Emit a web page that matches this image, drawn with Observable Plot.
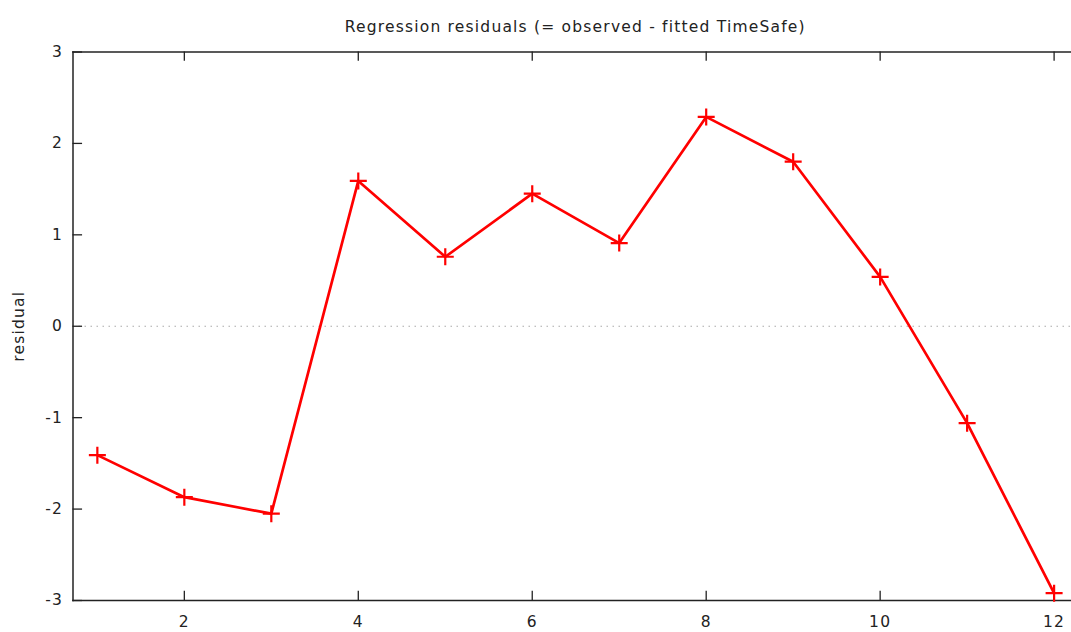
<!DOCTYPE html>
<html><head><meta charset="utf-8">
<script src="https://cdn.jsdelivr.net/npm/d3@7"></script>
<script src="https://cdn.jsdelivr.net/npm/@observablehq/plot@0.6"></script>
<style>body{margin:0;background:#fff;} svg{display:block;}</style>
</head><body><div id="chart"></div>
<script>
const obs = [1,2,3,4,5,6,7,8,9,10,11,12];
const residual = [-1.41,-1.87,-2.05,1.59,0.76,1.45,0.91,2.29,1.80,0.54,-1.06,-2.92];
const xTicks = [2,4,6,8,10,12];
const yTicks = [-3,-2,-1,0,1,2,3];
const title = "Regression residuals (= observed - fitted TimeSafe)";
const yLabel = "residual";

const data = obs.map((o,i)=>({obs:o, res:residual[i]}));
const plus = {draw(ctx){const r=8.5; ctx.moveTo(-r,0); ctx.lineTo(r,0); ctx.moveTo(0,-r); ctx.lineTo(0,r);}};
const fmt = d => String(d);

const chart = Plot.plot({
  width:1071, height:632,
  marginLeft:72.5, marginRight:0, marginTop:51.5, marginBottom:32,
  style:{fontFamily:"DejaVu Sans, Verdana, sans-serif", fontSize:"15.5px", letterSpacing:"1.2px", color:"#222", background:"#fff"},
  x:{domain:[0.72,12.2], ticks:xTicks, tickSize:0, tickPadding:15, tickFormat:fmt, label:null},
  y:{domain:[-3,3], ticks:yTicks, tickSize:0, tickPadding:10, tickFormat:fmt, label:null},
  marks:[
    Plot.ruleY([0], {stroke:"#aaa", strokeDasharray:"1.5,4.5", strokeWidth:1.2}),
    Plot.ruleX(xTicks, {x:d=>d, y1:-3, y2:-2.9, stroke:"#222", strokeWidth:1.3}),
    Plot.ruleX(xTicks, {x:d=>d, y1:3, y2:2.9, stroke:"#222", strokeWidth:1.3}),
    Plot.ruleY(yTicks, {y:d=>d, x1:0.72, x2:0.83, stroke:"#222", strokeWidth:1.3}),
    Plot.frame({anchor:"left", stroke:"#222", strokeWidth:1.5}),
    Plot.frame({anchor:"bottom", stroke:"#222", strokeWidth:1.5}),
    Plot.frame({anchor:"top", stroke:"#222", strokeWidth:1.5}),
    Plot.line(data, {x:"obs", y:"res", stroke:"#ff0000", strokeWidth:2.7}),
    Plot.dot(data, {x:"obs", y:"res", symbol:plus, stroke:"#ff0000", strokeWidth:2.2, r:8}),
    Plot.text([title], {frameAnchor:"top", dy:-31, dx:3, text:d=>d, fontSize:15.5, letterSpacing:"1.6px", fill:"#222"}),
    Plot.text([yLabel], {frameAnchor:"left", textAnchor:"middle", dx:-54, rotate:-90, text:d=>d, fontSize:15.5, letterSpacing:"1.6px", fill:"#222"})
  ]
});
document.getElementById("chart").appendChild(chart);
</script></body></html>
